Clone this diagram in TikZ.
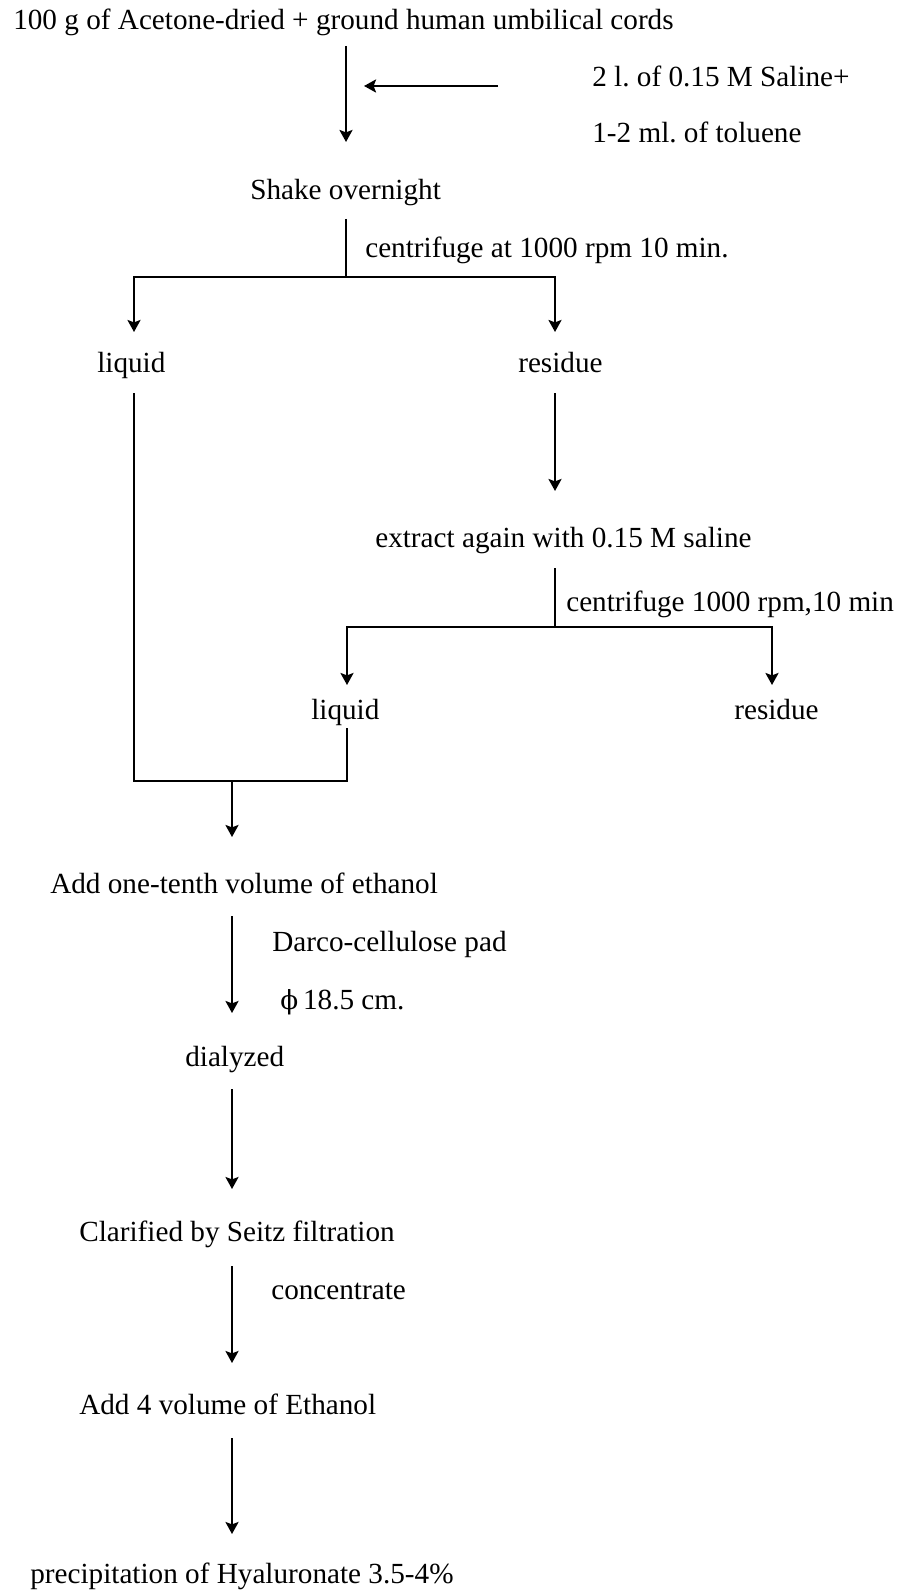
\documentclass[tikz,border=0pt]{standalone}
\usepackage{fontspec}
\setmainfont{Liberation Serif}
\newfontfamily\phifont{DejaVu Serif}[Scale=0.9]
\usetikzlibrary{arrows.meta}
\frenchspacing

\tikzset{
  txt/.style={anchor=west,inner sep=0pt,text height=9.9pt,text depth=3pt,
    font=\fontsize{14.6}{16}\selectfont},
  arr/.style={-{Stealth[length=6pt,width=6.5pt,inset=1.2pt]}},
}

\begin{document}
\begin{tikzpicture}[x=0.5pt,y=-0.5pt,line width=1.3pt]
  \useasboundingbox (0,0) rectangle (909,1594);

  % Texte
  \node[txt] (cords)   at (12,23)   {100 g of Acetone-dried + ground human umbilical cords};
  \node[txt] (saline)  at (591,80)  {2 l. of 0.15 M Saline+};
  \node[txt] (toluene) at (591,136) {1-2 ml. of toluene};
  \node[txt] (shake)   at (249,193) {Shake overnight};
  \node[txt] (spinA)   at (364,251) {centrifuge at 1000 rpm 10 min.};
  \node[txt] (liqA)    at (96,366)  {liquid};
  \node[txt] (resA)    at (517,366) {residue};
  \node[txt] (extract) at (374,541) {extract again with 0.15 M saline};
  \node[txt] (spinB)   at (565,605) {centrifuge 1000 rpm,10 min};
  \node[txt] (liqB)    at (310,713) {liquid};
  \node[txt] (resB)    at (733,713) {residue};
  \node[txt] (tenth)   at (49,887)  {Add one-tenth volume of ethanol};
  \node[txt] (darco)   at (271,945) {Darco-cellulose pad};
  \node[txt] (phi)     at (279,1003) {{\phifont ϕ}\,18.5 cm.};
  \node[txt] (dial)    at (184,1060) {dialyzed};
  \node[txt] (seitz)   at (78,1235) {Clarified by Seitz filtration};
  \node[txt] (conc)    at (270,1293) {concentrate};
  \node[txt] (fourvol) at (78,1408) {Add 4 volume of Ethanol};
  \node[txt] (precip)  at (29,1577) {precipitation of Hyaluronate 3.5-4\%};

  % Punkte
  \coordinate (cordsOut) at (346,46);
  \coordinate (shakeIn)  at (346,142);
  \coordinate (salOut)   at (498,86);
  \coordinate (salIn)    at (364,86);
  \coordinate (shakeOut) at (346,219);
  \coordinate (forkA)    at (346,277);
  \coordinate (liqAIn)   at (134,332);
  \coordinate (resAIn)   at (555,332);
  \coordinate (liqAOut)  at (134,393);
  \coordinate (resAOut)  at (555,393);
  \coordinate (extIn)    at (555,491);
  \coordinate (extOut)   at (555,568);
  \coordinate (forkB)    at (555,627);
  \coordinate (liqBIn)   at (347,685);
  \coordinate (resBIn)   at (772,685);
  \coordinate (liqBOut)  at (347,728);
  \coordinate (merge)    at (232,781);
  \coordinate (tenthIn)  at (232,837);

  % Pfeile
  \draw[arr] (cordsOut) -- (shakeIn);
  \draw[arr] (salOut) -- (salIn);                  % Saline + Toluol dazu
  \draw[arr] (shakeOut) -- (forkA) -| (liqAIn);
  \draw[arr] (forkA) -| (resAIn);
  \draw[arr] (resAOut) -- (extIn);
  \draw[arr] (extOut) -- (forkB) -| (liqBIn);
  \draw[arr] (forkB) -| (resBIn);
  \draw (liqAOut) |- (merge -| liqBOut) -- (liqBOut); % beide Fluessigkeiten
  \draw[arr] (merge) -- (tenthIn);

  % untere Kette
  \draw[arr] (232,916) -- (232,1013);
  \draw[arr] (232,1089) -- (232,1189);
  \draw[arr] (232,1266) -- (232,1363);
  \draw[arr] (232,1438) -- (232,1534);
\end{tikzpicture}
\end{document}
